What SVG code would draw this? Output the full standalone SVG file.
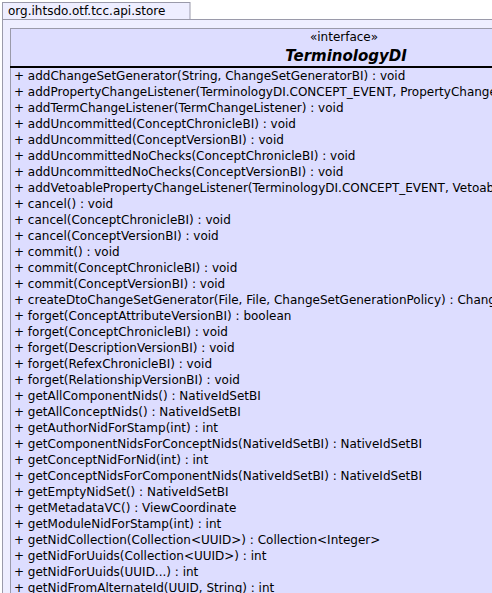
<svg xmlns="http://www.w3.org/2000/svg" width="492" height="593" viewBox="0 0 492 593">
<style>
.pkg{fill:#EEEEFF;stroke:#9A9AAA;stroke-width:1}
.cls{fill:#DDDDFF;stroke:#9A9AAA;stroke-width:1}
text{font-family:"DejaVu Sans",sans-serif;fill:#000}
.m{font-size:12px}
</style>
<rect width="492" height="593" fill="#FFFFFF"/>
<g id="package">
<rect class="pkg" x="2.5" y="2.5" width="187.5" height="17"/>
<rect class="pkg" x="2.5" y="19.5" width="500" height="600"/>
<text x="8" y="15" font-size="12">org.ihtsdo.otf.tcc.api.store</text>
</g>
<g id="TerminologyDI">
<rect class="cls" x="10.5" y="28.5" width="500" height="600"/>
<text x="344" y="41" font-size="12" text-anchor="middle">«interface»</text>
<text x="346" y="61" font-size="15" font-weight="bold" font-style="italic" text-anchor="middle">TerminologyDI</text>
<line x1="10" y1="67" x2="492" y2="67" stroke="#000" stroke-width="2"/>
<g class="m">
<text x="14" y="80">+  addChangeSetGenerator(String, ChangeSetGeneratorBI) : void</text>
<text x="14" y="96">+  addPropertyChangeListener(TerminologyDI.CONCEPT_EVENT, PropertyChangeListener) : void</text>
<text x="14" y="112">+  addTermChangeListener(TermChangeListener) : void</text>
<text x="14" y="128">+  addUncommitted(ConceptChronicleBI) : void</text>
<text x="14" y="144">+  addUncommitted(ConceptVersionBI) : void</text>
<text x="14" y="160">+  addUncommittedNoChecks(ConceptChronicleBI) : void</text>
<text x="14" y="176">+  addUncommittedNoChecks(ConceptVersionBI) : void</text>
<text x="14" y="192">+  addVetoablePropertyChangeListener(TerminologyDI.CONCEPT_EVENT, VetoableChangeListener) : void</text>
<text x="14" y="208">+  cancel() : void</text>
<text x="14" y="224">+  cancel(ConceptChronicleBI) : void</text>
<text x="14" y="240">+  cancel(ConceptVersionBI) : void</text>
<text x="14" y="256">+  commit() : void</text>
<text x="14" y="272">+  commit(ConceptChronicleBI) : void</text>
<text x="14" y="288">+  commit(ConceptVersionBI) : void</text>
<text x="14" y="304">+  createDtoChangeSetGenerator(File, File, ChangeSetGenerationPolicy) : ChangeSetGeneratorBI</text>
<text x="14" y="320">+  forget(ConceptAttributeVersionBI) : boolean</text>
<text x="14" y="336">+  forget(ConceptChronicleBI) : void</text>
<text x="14" y="352">+  forget(DescriptionVersionBI) : void</text>
<text x="14" y="368">+  forget(RefexChronicleBI) : void</text>
<text x="14" y="384">+  forget(RelationshipVersionBI) : void</text>
<text x="14" y="400">+  getAllComponentNids() : NativeIdSetBI</text>
<text x="14" y="416">+  getAllConceptNids() : NativeIdSetBI</text>
<text x="14" y="432">+  getAuthorNidForStamp(int) : int</text>
<text x="14" y="448">+  getComponentNidsForConceptNids(NativeIdSetBI) : NativeIdSetBI</text>
<text x="14" y="464">+  getConceptNidForNid(int) : int</text>
<text x="14" y="480">+  getConceptNidsForComponentNids(NativeIdSetBI) : NativeIdSetBI</text>
<text x="14" y="496">+  getEmptyNidSet() : NativeIdSetBI</text>
<text x="14" y="512">+  getMetadataVC() : ViewCoordinate</text>
<text x="14" y="528">+  getModuleNidForStamp(int) : int</text>
<text x="14" y="544">+  getNidCollection(Collection&lt;UUID&gt;) : Collection&lt;Integer&gt;</text>
<text x="14" y="560">+  getNidForUuids(Collection&lt;UUID&gt;) : int</text>
<text x="14" y="576">+  getNidForUuids(UUID...) : int</text>
<text x="14" y="592">+  getNidFromAlternateId(UUID, String) : int</text>
</g>
</g>
</svg>
